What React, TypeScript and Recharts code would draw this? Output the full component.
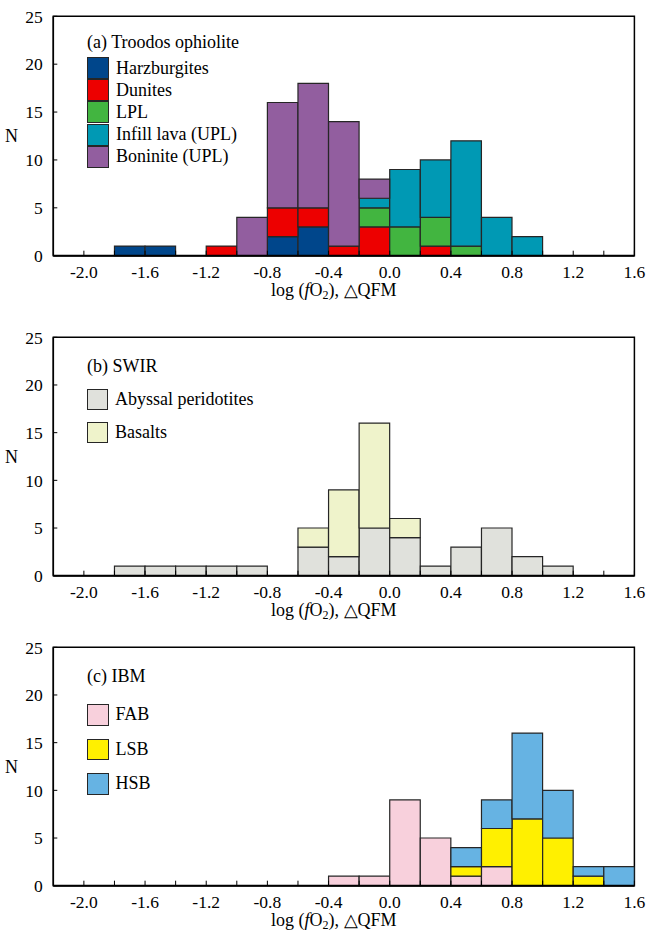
import React from 'react';
import { BarChart, Bar, XAxis, YAxis, Legend, ReferenceArea } from 'recharts';

// bin centres, 0.2 wide, from -2.2 to 1.6
const BINS = [-2.1, -1.9, -1.7, -1.5, -1.3, -1.1, -0.9, -0.7, -0.5, -0.3, -0.1, 0.1, 0.3, 0.5, 0.7, 0.9, 1.1, 1.3, 1.5];
const X_TICKS = [-2.0, -1.8, -1.6, -1.4, -1.2, -1.0, -0.8, -0.6, -0.4, -0.2, 0, 0.2, 0.4, 0.6, 0.8, 1.0, 1.2, 1.4, 1.6];
const Y_TICKS = [0, 5, 10, 15, 20, 25];

// (a) Troodos ophiolite
const harzburgites = [0, 0, 1, 1, 0, 0, 0, 2, 3, 0, 0, 0, 0, 0, 0, 0, 0, 0, 0];
const dunites = [0, 0, 0, 0, 0, 1, 0, 3, 2, 1, 3, 0, 1, 0, 0, 0, 0, 0, 0];
const lpl = [0, 0, 0, 0, 0, 0, 0, 0, 0, 0, 2, 3, 3, 1, 0, 0, 0, 0, 0];
const infillLava = [0, 0, 0, 0, 0, 0, 0, 0, 0, 0, 1, 6, 6, 11, 4, 2, 0, 0, 0];
const boninite = [0, 0, 0, 0, 0, 0, 4, 11, 13, 13, 2, 0, 0, 0, 0, 0, 0, 0, 0];

// (b) SWIR
const abyssal = [0, 0, 1, 1, 1, 1, 1, 0, 3, 2, 5, 4, 1, 3, 5, 2, 1, 0, 0];
const basalts = [0, 0, 0, 0, 0, 0, 0, 0, 2, 7, 11, 2, 0, 0, 0, 0, 0, 0, 0];

// (c) IBM
const fab = [0, 0, 0, 0, 0, 0, 0, 0, 0, 1, 1, 9, 5, 1, 2, 0, 0, 0, 0];
const lsb = [0, 0, 0, 0, 0, 0, 0, 0, 0, 0, 0, 0, 0, 1, 4, 7, 5, 1, 0];
const hsb = [0, 0, 0, 0, 0, 0, 0, 0, 0, 0, 0, 0, 0, 2, 3, 9, 5, 1, 2];

const FONT = '"Liberation Serif", "Times New Roman", serif';
const EDGE = '#262626';
const X_DOMAIN = [-2.2, 1.6];
const PLOT_WIDTH = 581.1;

type Series = { key: string; name: string; color: string; values: number[] };

const troodosSeries: Series[] = [
  { key: 'harz', name: 'Harzburgites', color: '#00468B', values: harzburgites },
  { key: 'dun', name: 'Dunites', color: '#ED0000', values: dunites },
  { key: 'lpl', name: 'LPL', color: '#42B540', values: lpl },
  { key: 'infill', name: 'Infill lava (UPL)', color: '#0099B4', values: infillLava },
  { key: 'bon', name: 'Boninite (UPL)', color: '#925E9F', values: boninite }
];

const swirSeries: Series[] = [
  { key: 'aby', name: 'Abyssal peridotites', color: '#E0E1DC', values: abyssal },
  { key: 'bas', name: 'Basalts', color: '#EFF3CB', values: basalts }
];

const ibmSeries: Series[] = [
  { key: 'fab', name: 'FAB', color: '#F8D0DC', values: fab },
  { key: 'lsb', name: 'LSB', color: '#FFF000', values: lsb },
  { key: 'hsb', name: 'HSB', color: '#66B3E3', values: hsb }
];

const buildRows = (series: Series[]) =>
  BINS.map((bin, i) => {
    const row: Record<string, number> = { bin };
    series.forEach(s => {
      row[s.key] = s.values[i];
    });
    return row;
  });

const formatX = (v: number) => (Math.abs(Math.round(v * 10)) % 4 === 0 ? v.toFixed(1) : '');

const AxisTitle = ({ viewBox }: any) => {
  if (!viewBox) return null;
  const cx = viewBox.x + viewBox.width / 2 - 10;
  const y = viewBox.y + 36;
  return (
    <text x={cx} y={y} textAnchor="middle" dominantBaseline="middle" fontFamily={FONT} fontSize={18} fill="#000">
      log (<tspan fontStyle="italic">f</tspan>O<tspan fontSize={12} dy={4}>2</tspan>
      <tspan dy={-4}>), △QFM</tspan>
    </text>
  );
};

interface PanelProps {
  title: string;
  series: Series[];
  top: number;
  plotHeight: number;
  titleTop: number;
  firstRow: number;
  rowPitch: number;
  swatch: number;
}

function Panel({ title, series, top, plotHeight, titleTop, firstRow, rowPitch, swatch }: PanelProps) {
  const data = buildRows(series);
  const chartHeight = 310;
  const marginTop = 16.3;
  // one bin (0.2) in pixels, a hair under the band so recharts keeps it
  const binWidth = ((PLOT_WIDTH * 0.2) / (X_DOMAIN[1] - X_DOMAIN[0])) * 0.998;

  const renderLegend = () => (
    <div style={{ position: 'relative', width: 240, height: firstRow + rowPitch * series.length, fontFamily: FONT, fontSize: 18, color: '#000' }}>
      <div style={{ position: 'absolute', left: 0, top: 0, lineHeight: '20px', whiteSpace: 'nowrap' }}>{title}</div>
      {series.map((s, i) => (
        <div
          key={s.key}
          style={{
            position: 'absolute',
            left: 0,
            top: firstRow + i * rowPitch,
            height: swatch,
            display: 'flex',
            alignItems: 'center',
            whiteSpace: 'nowrap'
          }}
        >
          <div
            style={{
              width: swatch,
              height: swatch,
              boxSizing: 'border-box',
              background: s.color,
              border: `1.5px solid ${EDGE}`,
              marginRight: 7
            }}
          />
          <span>{s.name}</span>
        </div>
      ))}
    </div>
  );

  return (
    <div style={{ position: 'absolute', left: 0, top }}>
      <BarChart
        width={646}
        height={chartHeight}
        data={data}
        margin={{ top: marginTop, right: 646 - 53.3 - PLOT_WIDTH, left: 0, bottom: 0 }}
        barCategoryGap={0}
        barGap={0}
      >
        <XAxis
          dataKey="bin"
          type="number"
          domain={X_DOMAIN}
          allowDataOverflow
          ticks={X_TICKS}
          interval={0}
          tickFormatter={formatX}
          height={chartHeight - marginTop - plotHeight}
          tickSize={-5}
          tickMargin={15}
          tick={{ fill: '#000', fontSize: 17.5, fontFamily: FONT }}
          tickLine={{ stroke: '#000', strokeWidth: 1 }}
          axisLine={{ stroke: '#000', strokeWidth: 2 }}
          label={<AxisTitle />}
        />
        <YAxis
          domain={[0, 25]}
          ticks={Y_TICKS}
          interval={0}
          width={53.3}
          tickSize={-4}
          tickMargin={14.6}
          tick={{ fill: '#000', fontSize: 17.5, fontFamily: FONT }}
          tickLine={{ stroke: '#000', strokeWidth: 1 }}
          axisLine={{ stroke: '#000', strokeWidth: 1.5 }}
          label={{ value: 'N', position: 'insideLeft', offset: 5, fill: '#000', fontSize: 18, fontFamily: FONT }}
        />
        <Legend
          content={renderLegend}
          layout="vertical"
          align="center"
          verticalAlign="middle"
          wrapperStyle={{ left: 87, top: titleTop, width: 240 }}
        />
        {series.map(s => (
          <Bar
            key={s.key}
            dataKey={s.key}
            name={s.name}
            stackId="n"
            barSize={binWidth}
            fill={s.color}
            stroke={EDGE}
            strokeWidth={1.2}
            isAnimationActive={false}
          />
        ))}
        <ReferenceArea
          x1={-2.2}
          x2={1.6}
          y1={0}
          y2={25}
          fill="none"
          fillOpacity={0}
          stroke="#000"
          strokeWidth={1.5}
          ifOverflow="visible"
        />
      </BarChart>
    </div>
  );
}

export default function App() {
  return (
    <div style={{ position: 'absolute', left: 0, top: 0, width: 646, height: 939, background: '#fff', overflow: 'hidden' }}>
      <Panel
        title="(a) Troodos ophiolite"
        series={troodosSeries}
        top={0}
        plotHeight={239.4}
        titleTop={32}
        firstRow={25}
        rowPitch={22.2}
        swatch={22}
      />
      <Panel
        title="(b) SWIR"
        series={swirSeries}
        top={321}
        plotHeight={238.4}
        titleTop={35}
        firstRow={33}
        rowPitch={33.3}
        swatch={21}
      />
      <Panel
        title="(c) IBM"
        series={ibmSeries}
        top={631}
        plotHeight={238.4}
        titleTop={35}
        firstRow={38}
        rowPitch={34.5}
        swatch={21.5}
      />
    </div>
  );
}
